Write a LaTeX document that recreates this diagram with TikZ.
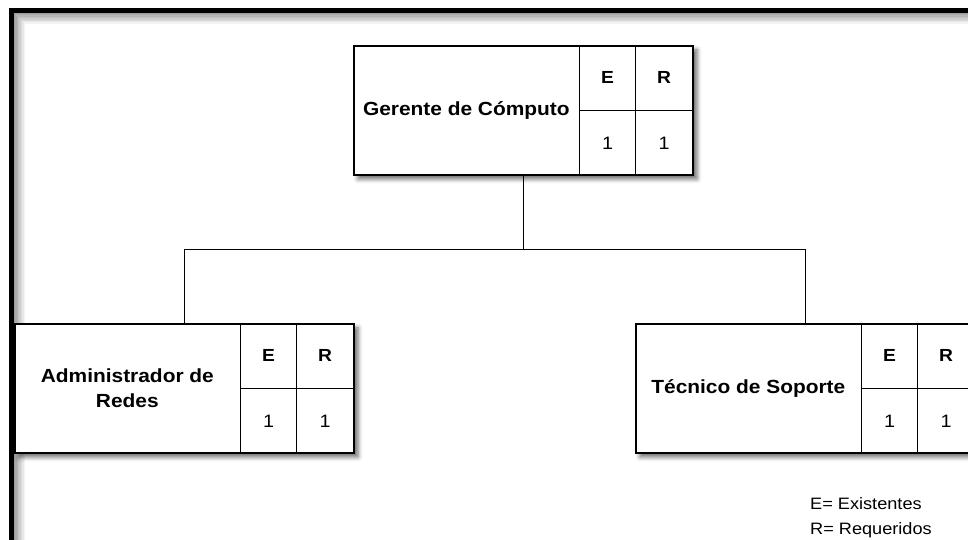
\documentclass[tikz,border=0pt]{standalone}
\usepackage{fontspec}
\setmainfont{Liberation Sans}[FakeStretch=1.1]
\usetikzlibrary{positioning,calc,shadows.blur}
\definecolor{ink}{RGB}{0,0,0}
\definecolor{greyedge}{RGB}{120,120,120}
\tikzset{
  puesto/.style={draw=ink,line width=1.3pt,fill=white,minimum width=339pt,minimum height=129pt,inner sep=0pt,
    blur shadow={shadow xshift=4pt,shadow yshift=-4pt,shadow blur radius=4.5pt,shadow opacity=60}},
  nombre/.style={font=\bfseries\fontsize{19}{25}\selectfont,align=center,inner sep=0pt},
  celda/.style={font=\bfseries\fontsize{17.5}{19}\selectfont,inner sep=0pt},
  cifra/.style={font=\fontsize{18}{20}\selectfont,inner sep=0pt},
  regla/.style={draw=ink,line width=1.2pt},
  rama/.style={draw=ink,line width=1pt},
  leyenda/.style={font=\fontsize{16.5}{18}\selectfont,inner sep=0pt,anchor=base west}
}

\begin{document}
\begin{tikzpicture}[x=1pt,y=1pt]
  \useasboundingbox (0,0) rectangle (968,540);
  \clip (0,0) rectangle (968,540);
  % marco
  \foreach \k in {1,...,8}{
    \pgfmathsetmacro{\o}{0.09*(9-\k)}
    \draw[greyedge,line width=1.4pt,draw opacity=\o] (13+1.4*\k,-20) rectangle (1000,528-1.4*\k);
  }
  \draw[ink,line width=5pt] (11.5,-20) rectangle (1000,529.5);

  % puestos
  \foreach \id/\cx/\cy/\txt in {gerente/523.5/429.5/{Gerente de Cómputo},admin/184.5/151.5/{Administrador de\\Redes},tecnico/805.5/151.5/{Técnico de Soporte}}{
    \node[puesto] (\id) at (\cx,\cy) {};
    \node[nombre] (\id-n) at ($(\id.west)+(113,0)$) {\txt};
    \draw[regla] ($(\id.north west)+(226,0)$) -- ($(\id.south west)+(226,0)$);
    \draw[regla] ($(\id.north west)+(282.5,0)$) -- ($(\id.south west)+(282.5,0)$);
    \draw[regla] ($(\id.west)+(226,0)$) -- (\id.east);
    \node[celda] (\id-e) at ($(\id.north west)+(254.25,-32.25)$) {E};
    \node[celda] (\id-r) at ($(\id.north west)+(310.75,-32.25)$) {R};
    \node[cifra] (\id-e1) at ($(\id.south west)+(254.25,32.25)$) {1};
    \node[cifra] (\id-r1) at ($(\id.south west)+(310.75,32.25)$) {1};
  }

  % ramas
  \coordinate (bus) at (523.5,290);
  \draw[rama] (gerente.south) -- (gerente.south |- bus);
  \draw[rama] (admin.north) |- (tecnico.north |- bus) -- (tecnico.north);

  % leyenda
  \node[leyenda] (leyE) at (810,30) {E= Existentes};
  \node[leyenda] (leyR) at (810,5) {R= Requeridos};
\end{tikzpicture}
\end{document}
